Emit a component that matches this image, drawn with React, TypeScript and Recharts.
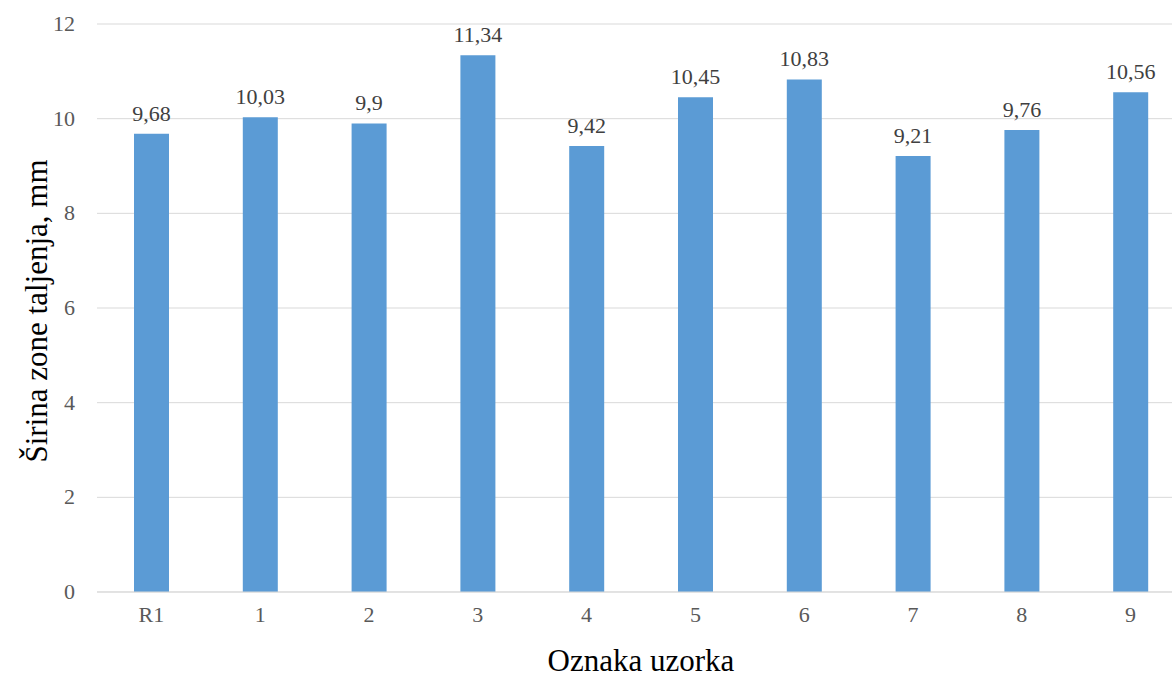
import { BarChart, Bar, XAxis, YAxis, CartesianGrid, LabelList } from "recharts";

const uzorci = ["R1", "1", "2", "3", "4", "5", "6", "7", "8", "9"];
const sirina = [9.68, 10.03, 9.9, 11.34, 9.42, 10.45, 10.83, 9.21, 9.76, 10.56];
const yTicks = [0, 2, 4, 6, 8, 10, 12];

const data = uzorci.map((name, i) => ({ name, sirina: sirina[i] }));

const font = "'Liberation Serif', 'Times New Roman', serif";

const XTick = (props: any) => {
  const { x, y, payload } = props;
  return (
    <text x={x} y={y + 22} textAnchor="middle" fill="#595959" style={{ fontFamily: font, fontSize: 22 }}>
      {payload.value}
    </text>
  );
};

const YTick = (props: any) => {
  const { x, y, payload } = props;
  return (
    <text x={x} y={y + 7} textAnchor="end" fill="#595959" style={{ fontFamily: font, fontSize: 22 }}>
      {payload.value}
    </text>
  );
};

const ValueLabel = (props: any) => {
  const { x, y, width, value } = props;
  return (
    <text x={x + width / 2} y={y - 13} textAnchor="middle" fill="#404040" style={{ fontFamily: font, fontSize: 22 }}>
      {String(value).replace(".", ",")}
    </text>
  );
};

const YTitle = () => (
  <text
    x={0}
    y={0}
    transform="translate(47, 311) rotate(-90)"
    textAnchor="middle"
    fill="#000"
    style={{ fontFamily: font, fontSize: 31 }}
  >
    Širina zone taljenja, mm
  </text>
);

const XTitle = () => (
  <text x={641} y={671} textAnchor="middle" fill="#000" style={{ fontFamily: font, fontSize: 31 }}>
    Oznaka uzorka
  </text>
);

export default function App() {
  return (
    <div style={{ position: "absolute", left: 0, top: 0, width: 1172, height: 674, overflow: "hidden", background: "#fff" }}>
      <BarChart width={1190} height={674} data={data} margin={{ top: 24, right: 5, bottom: 0, left: 0 }}>
        <CartesianGrid stroke="#d9d9d9" vertical={false} />
        <XAxis
          dataKey="name"
          height={82}
          axisLine={{ stroke: "#d9d9d9" }}
          tickLine={false}
          tick={<XTick />}
          label={<XTitle />}
        />
        <YAxis
          width={97}
          domain={[0, 12]}
          ticks={yTicks}
          axisLine={false}
          tickLine={false}
          tick={<YTick />}
          tickMargin={16}
          label={<YTitle />}
        />
        <Bar dataKey="sirina" fill="#5b9bd5" barSize={35} isAnimationActive={false}>
          <LabelList dataKey="sirina" content={<ValueLabel />} />
        </Bar>
      </BarChart>
    </div>
  );
}
